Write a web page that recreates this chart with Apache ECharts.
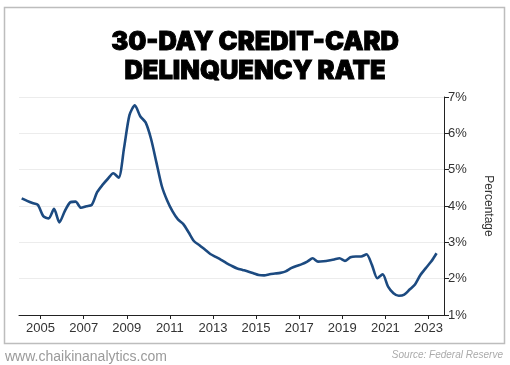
<!DOCTYPE html>
<html>
<head>
<meta charset="utf-8">
<script src="https://cdn.jsdelivr.net/npm/echarts@6/dist/echarts.min.js"></script>
<style>
html,body{margin:0;padding:0;background:#fff;}
#chart{width:510px;height:365px;}
</style>
</head>
<body>
<div id="chart"></div>
<script>
const titleText = '30-DAY CREDIT-CARD\nDELINQUENCY RATE';
const quarters = [
  '2004Q1','2004Q2','2004Q3','2004Q4','2005Q1','2005Q2','2005Q3','2005Q4',
  '2006Q1','2006Q2','2006Q3','2006Q4','2007Q1','2007Q2','2007Q3','2007Q4',
  '2008Q1','2008Q2','2008Q3','2008Q4','2009Q1','2009Q2','2009Q3','2009Q4',
  '2010Q1','2010Q2','2010Q3','2010Q4','2011Q1','2011Q2','2011Q3','2011Q4',
  '2012Q1','2012Q2','2012Q3','2012Q4','2013Q1','2013Q2','2013Q3','2013Q4',
  '2014Q1','2014Q2','2014Q3','2014Q4','2015Q1','2015Q2','2015Q3','2015Q4',
  '2016Q1','2016Q2','2016Q3','2016Q4','2017Q1','2017Q2','2017Q3','2017Q4',
  '2018Q1','2018Q2','2018Q3','2018Q4','2019Q1','2019Q2','2019Q3','2019Q4',
  '2020Q1','2020Q2','2020Q3','2020Q4','2021Q1','2021Q2','2021Q3','2021Q4',
  '2022Q1','2022Q2','2022Q3','2022Q4','2023Q1','2023Q2'
];
const delinquencyRate = [
  4.21,4.14,4.08,4.03, 3.72,3.66,3.92,3.55,
  3.86,4.10,4.12,3.95, 3.99,4.03,4.38,4.58,
  4.75,4.90,4.78,5.60, 6.50,6.77,6.47,6.30,
  5.85,5.20,4.55,4.15, 3.85,3.63,3.50,3.27,
  3.03,2.92,2.80,2.68, 2.60,2.52,2.43,2.35,
  2.28,2.24,2.20,2.15, 2.10,2.09,2.12,2.14,
  2.16,2.20,2.29,2.35, 2.40,2.47,2.56,2.47,
  2.48,2.50,2.53,2.56, 2.49,2.59,2.61,2.61,
  2.67,2.38,2.01,2.12, 1.78,1.60,1.53,1.56,
  1.70,1.84,2.10,2.29, 2.47,2.70
];
const xTickYears = [2005,2007,2009,2011,2013,2015,2017,2019,2021,2023];
const yTicks = [1,2,3,4,5,6,7];
const yAxisName = 'Percentage';
const footerLeft = 'www.chaikinanalytics.com';
const footerRight = 'Source: Federal Reserve';

// mid-quarter position as decimal year
function quarterToYear(q){
  const y = parseInt(q.slice(0,4),10);
  const n = parseInt(q.slice(5),10);
  return y + (n-1)/4 + 0.125;
}
const seriesData = quarters.map((q,i)=>[quarterToYear(q), delinquencyRate[i]]);

const chart = echarts.init(document.getElementById('chart'), null, {renderer:'canvas'});
chart.setOption({
  animation:false,
  backgroundColor:'#fff',
  title:{
    text:titleText,
    left:'center',
    top:23,
    textStyle:{fontFamily:'Inter',fontWeight:900,fontSize:25.5,lineHeight:29,color:'#000',
      textBorderColor:'#000',textBorderWidth:0.9}
  },
  graphic:[
    {type:'rect',shape:{x:4.5,y:7.5,width:500,height:336},style:{fill:'none',stroke:'#bdbdbd',lineWidth:1.5},silent:true,z:-1},
    {type:'text',left:5,top:350,style:{text:footerLeft,fontFamily:'Liberation Sans',fontSize:14,fill:'#9a9a9a'}},
    {type:'text',right:7,top:350,style:{text:footerRight,fontFamily:'Liberation Sans',fontSize:10,fontStyle:'italic',fill:'#aaaaaa'}}
  ],
  grid:{left:19,right:66,top:97,bottom:50,containLabel:false},
  xAxis:{
    type:'value',
    min:2004,
    max:2023.72,
    axisLine:{show:true,lineStyle:{color:'#222',width:1}},
    axisTick:{show:true,length:4,lineStyle:{color:'#222'},customValues:xTickYears},
    axisLabel:{customValues:xTickYears,color:'#333',fontFamily:'Liberation Sans',fontSize:13,margin:7,formatter:v=>String(v)},
    splitLine:{show:false}
  },
  yAxis:{
    type:'value',
    position:'right',
    min:yTicks[0],
    max:yTicks[yTicks.length-1],
    interval:1,
    name:yAxisName,
    nameLocation:'middle',
    nameRotate:-90,
    nameGap:38,
    nameTextStyle:{color:'#333',fontFamily:'Liberation Sans',fontSize:12},
    axisLine:{show:true,lineStyle:{color:'#222',width:1}},
    axisTick:{show:true,length:5,lineStyle:{color:'#222'}},
    axisLabel:{color:'#333',fontFamily:'Liberation Sans',fontSize:13,margin:4,formatter:'{value}%'},
    splitLine:{show:true,lineStyle:{color:'#ececec',width:1}}
  },
  series:[{
    type:'line',
    data:seriesData,
    showSymbol:false,
    smooth:0.25,
    lineStyle:{color:'#1c4a80',width:2.6},
    itemStyle:{color:'#1c4a80'}
  }]
});
</script>
</body>
</html>
